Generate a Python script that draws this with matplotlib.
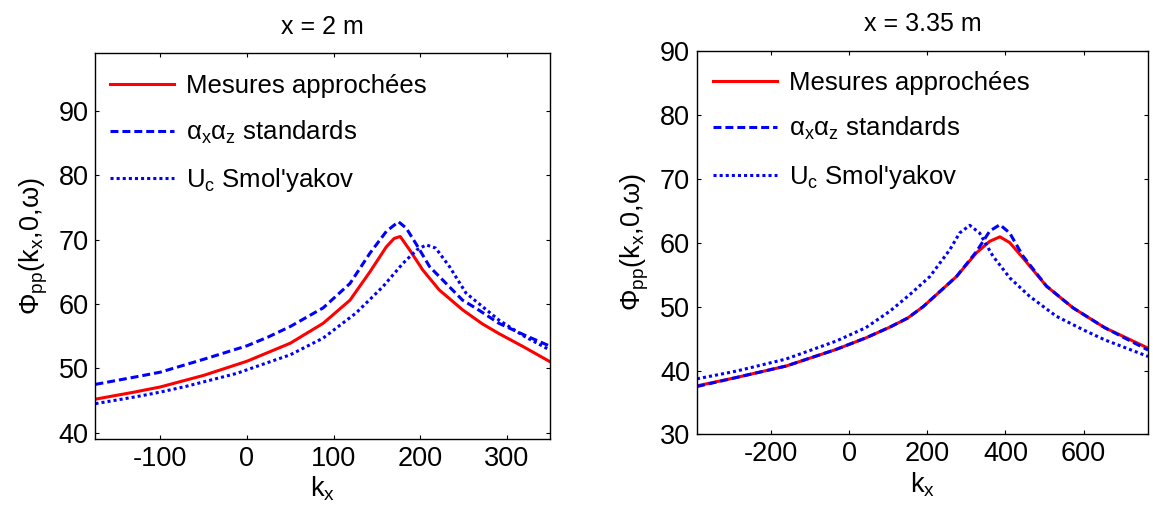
import numpy as np
import matplotlib
matplotlib.use('Agg')
import matplotlib.pyplot as plt

# ---------------------------------------------------------------
# data (k_x, Phi_pp in dB)
# ---------------------------------------------------------------

# x = 2 m
kx_mes_2 = [-175, -130, -100, -50, 0, 50, 88, 119, 142, 161, 170, 177, 188,
            203, 222, 249, 272, 291, 320, 349]
phi_mes_2 = [45.2, 46.3, 47.1, 48.9, 51.1, 53.9, 57.0, 60.6, 65.0, 68.9, 70.2,
             70.5, 68.4, 65.3, 62.2, 59.1, 56.9, 55.4, 53.3, 51.1]

kx_std_2 = [-175, -127, -100, -50, 0, 25, 50, 88, 119, 142, 161, 175, 184,
            196, 211, 230, 249, 265, 291, 320, 349]
phi_std_2 = [47.5, 48.7, 49.4, 51.4, 53.5, 54.9, 56.5, 59.4, 63.2, 67.9, 71.3,
             72.8, 71.8, 69.2, 65.8, 63.2, 60.6, 59.3, 57.0, 55.2, 53.5]

kx_smo_2 = [-175, -127, -100, -70, -12, 22, 50, 88, 126, 157, 180, 196, 207,
            218, 234, 253, 272, 291, 320, 349]
phi_smo_2 = [44.5, 45.6, 46.3, 47.2, 49.2, 50.8, 52.1, 54.7, 58.6, 62.7, 66.3,
             68.4, 69.2, 68.7, 65.8, 61.7, 59.6, 57.5, 55.0, 52.9]

# x = 3.35 m
kx_mes_3 = [-389, -289, -161, -33, 43, 105, 150, 190, 275, 326, 360, 386, 411,
            445, 505, 573, 654, 765]
phi_mes_3 = [37.6, 38.9, 40.7, 43.3, 45.1, 46.8, 48.2, 50.0, 54.7, 58.4, 60.2,
             60.9, 60.0, 57.6, 53.2, 49.8, 46.7, 43.5]

kx_std_3 = [-389, -289, -161, -33, 43, 105, 150, 190, 275, 326, 360, 386, 411,
            445, 505, 573, 654, 765]
phi_std_3 = [37.5, 38.9, 40.7, 43.3, 45.1, 46.8, 48.2, 50.0, 54.7, 58.6, 61.8,
             62.8, 61.5, 57.9, 53.2, 49.8, 46.7, 43.2]

kx_smo_3 = [-389, -289, -161, -33, 43, 105, 156, 207, 258, 283, 309, 334, 368,
            411, 462, 530, 598, 654, 765]
phi_smo_3 = [38.7, 39.9, 41.8, 44.6, 46.7, 49.3, 51.9, 54.7, 58.9, 61.5, 62.7,
             61.5, 57.9, 54.5, 51.6, 48.5, 46.4, 44.8, 42.2]

titles = ['x = 2 m', 'x = 3.35 m']
labels = ['Mesures approchées',
          'α$_{\\mathrm{x}}$α$_{\\mathrm{z}}$ standards',
          "U$_{\\mathrm{c}}$ Smol'yakov"]

plt.rcParams['font.family'] = ['Liberation Sans', 'DejaVu Sans']
plt.rcParams['mathtext.fontset'] = 'custom'
plt.rcParams['mathtext.rm'] = 'Liberation Sans'
plt.rcParams['mathtext.it'] = 'Liberation Sans'
plt.rcParams['axes.unicode_minus'] = False
plt.rcParams['font.size'] = 18.5


def draw_panel(ax, mes, std, smo, title, xlim, ylim, xticks, yticks, leg_xy):
    lw = 2.2
    ax.plot(mes[0], mes[1], color='#ff0000', lw=lw, label=labels[0])
    ax.plot(std[0], std[1], color='#0000ff', lw=lw, ls=(0, (2.6, 1.3)),
            label=labels[1])
    ax.plot(smo[0], smo[1], color='#0000ff', lw=lw, ls=(0, (1, 1)),
            label=labels[2])
    ax.set_xlim(xlim)
    ax.set_ylim(ylim)
    ax.set_xticks(xticks)
    ax.set_yticks(yticks)
    ax.tick_params(direction='in', top=True, right=True, length=3,
                   width=0.8, pad=5, labelsize=19.5)
    for s in ax.spines.values():
        s.set_linewidth(1.0)
    ax.set_title(title, fontsize=18, pad=14)
    ax.set_xlabel('k$_{\\mathrm{x}}$', labelpad=2, fontsize=19.5)
    ax.set_ylabel('Φ$_{\\mathrm{pp}}$(k$_{\\mathrm{x}}$,0,ω)', labelpad=6,
                  fontsize=19.5)
    ax.legend(loc='upper left', bbox_to_anchor=leg_xy, frameon=False,
              borderaxespad=0, borderpad=0, handlelength=2.5,
              handletextpad=0.45, labelspacing=0.8, fontsize=18.5)


def main():
    fig = plt.figure(figsize=(11.53, 5.18), dpi=100)
    ax1 = fig.add_axes([0.0828, 0.1525, 0.3942, 0.7446])
    ax2 = fig.add_axes([0.6045, 0.1612, 0.3912, 0.7410])

    draw_panel(ax1, (kx_mes_2, phi_mes_2), (kx_std_2, phi_std_2),
               (kx_smo_2, phi_smo_2), titles[0], (-175, 350), (39, 99),
               [-100, 0, 100, 200, 300], [40, 50, 60, 70, 80, 90],
               (0.032, 0.946))
    draw_panel(ax2, (kx_mes_3, phi_mes_3), (kx_std_3, phi_std_3),
               (kx_smo_3, phi_smo_3), titles[1], (-389, 765), (30, 90),
               [-200, 0, 200, 400, 600], [30, 40, 50, 60, 70, 80, 90],
               (0.036, 0.948))

    fig.savefig('out.png', dpi=100)


if __name__ == '__main__':
    main()
